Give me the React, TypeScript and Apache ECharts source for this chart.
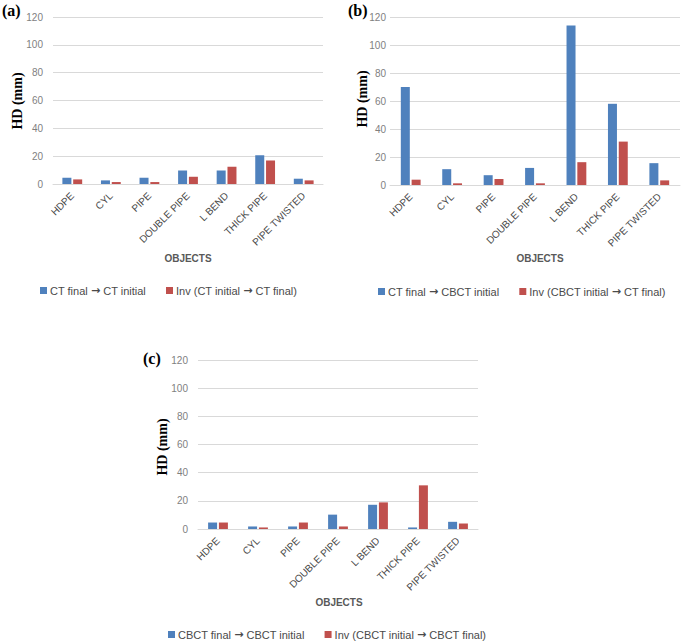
import React, { useEffect, useRef } from "react";
import * as echarts from "echarts";

const categories = ["HDPE", "CYL", "PIPE", "DOUBLE PIPE", "L BEND", "THICK PIPE", "PIPE TWISTED"];

const aNames = ["CT final \u2192 CT initial", "Inv (CT initial \u2192 CT final)"];
const aForward = [4.5, 2.6, 4.5, 9.7, 9.7, 20.7, 3.8];
const aInverse = [3.3, 1.4, 1.4, 5.2, 12.4, 16.9, 2.6];

const bNames = ["CT final \u2192 CBCT initial", "Inv (CBCT initial \u2192 CT final)"];
const bForward = [70, 11.3, 7.0, 12.2, 114, 58, 15.6];
const bInverse = [3.8, 1.2, 4.3, 1.2, 16.3, 31, 3.3];

const cNames = ["CBCT final \u2192 CBCT initial", "Inv (CBCT initial \u2192 CBCT final)"];
const cForward = [4.6, 1.8, 1.8, 10.2, 17.2, 1.1, 5.1];
const cInverse = [4.6, 1.1, 4.6, 1.8, 18.9, 31, 3.9];

const yTicks = { min: 0, max: 120, interval: 20 };

const BLUE = "#4F81BD";
const RED = "#C0504D";
const FONT = "Liberation Sans, Arial, sans-serif";
const SERIF = "Liberation Serif, Times New Roman, serif";

export default function App() {
  const ref = useRef<HTMLDivElement>(null);
  useEffect(() => {
    if (!ref.current) return;
    const chart = echarts.init(ref.current, undefined, { renderer: "svg" });
    const grids = [
      { left: 53, top: 17, width: 270, height: 167 },
      { left: 390, top: 17, width: 290, height: 168 },
      { left: 198, top: 360, width: 280, height: 169 },
    ];
    const labelMargins = [10, 4, 10];
    const panels = [
      { names: aNames, f: aForward, inv: aInverse },
      { names: bNames, f: bForward, inv: bInverse },
      { names: cNames, f: cForward, inv: cInverse },
    ];
    const xAxis = grids.map((_, i) => ({
      type: "category",
      gridIndex: i,
      data: categories,
      axisLine: { show: true, lineStyle: { color: "#D9D9D9" } },
      axisTick: { show: false },
      axisLabel: { rotate: 45, fontSize: 10, color: "#4A4A4A", fontFamily: FONT, margin: 10, interval: 0 },
    }));
    const yAxis = grids.map((_, i) => ({
      type: "value",
      gridIndex: i,
      min: yTicks.min,
      max: yTicks.max,
      interval: yTicks.interval,
      axisLine: { show: false },
      axisTick: { show: false },
      splitLine: { lineStyle: { color: "#D9D9D9" } },
      axisLabel: { fontSize: 10, color: "#7F7F7F", fontFamily: FONT, margin: labelMargins[i] },
    }));
    const series: any[] = [];
    panels.forEach((p, i) => {
      series.push({
        type: "bar", name: p.names[0], xAxisIndex: i, yAxisIndex: i, data: p.f,
        barWidth: 9, barGap: "20%", itemStyle: { color: BLUE },
      });
      series.push({
        type: "bar", name: p.names[1], xAxisIndex: i, yAxisIndex: i, data: p.inv,
        barWidth: 9, barGap: "20%", itemStyle: { color: RED },
      });
    });
    const legendPos = [
      { left: 35, top: 280 },
      { left: 373, top: 281 },
      { left: 163, top: 624 },
    ];
    const legend = panels.map((p, i) => ({
      data: p.names,
      left: legendPos[i].left,
      top: legendPos[i].top,
      icon: "rect",
      itemWidth: 7,
      itemHeight: 7,
      itemGap: 20,
      formatter: (name: string) => name.split("\u2192").join("{ar|\u2192}"),
      textStyle: {
        fontSize: 11, color: "#4A4A4A", fontFamily: FONT, padding: [0, 0, 0, -2],
        rich: { ar: { fontSize: 11, color: "#4A4A4A", fontFamily: "DejaVu Sans", fontWeight: "bold" } },
      },
      selectedMode: false,
    }));
    const objLabels = [
      { x: 188, y: 258 },
      { x: 540, y: 258 },
      { x: 339, y: 602 },
    ];
    const hdLabels = [
      { x: 17, y: 101 },
      { x: 362, y: 99 },
      { x: 162, y: 447 },
    ];
    const panelLetters = [
      { t: "(a)", x: 2, y: 10 },
      { t: "(b)", x: 348, y: 10 },
      { t: "(c)", x: 143, y: 358 },
    ];
    const graphic: any[] = [];
    objLabels.forEach((o) =>
      graphic.push({
        type: "text", x: o.x, y: o.y,
        style: { text: "OBJECTS", fontSize: 10, fontWeight: "bold", fill: "#595959", fontFamily: FONT, textAlign: "center", textVerticalAlign: "middle" },
      })
    );
    hdLabels.forEach((o) =>
      graphic.push({
        type: "text", x: o.x, y: o.y, rotation: Math.PI / 2,
        style: { text: "HD (mm)", fontSize: 14, fontWeight: "bold", fill: "#000", fontFamily: SERIF, textAlign: "center", textVerticalAlign: "middle" },
      })
    );
    panelLetters.forEach((o) =>
      graphic.push({
        type: "text", x: o.x, y: o.y,
        style: { text: o.t, fontSize: 16, fontWeight: "bold", fill: "#000", fontFamily: SERIF, textAlign: "left", textVerticalAlign: "middle" },
      })
    );
    chart.setOption({
      animation: false,
      backgroundColor: "#fff",
      grid: grids,
      xAxis,
      yAxis,
      legend,
      series,
      graphic,
    });
    return () => chart.dispose();
  }, []);
  return <div ref={ref} style={{ position: "absolute", left: 0, top: 0, width: 685, height: 643 }} />;
}
